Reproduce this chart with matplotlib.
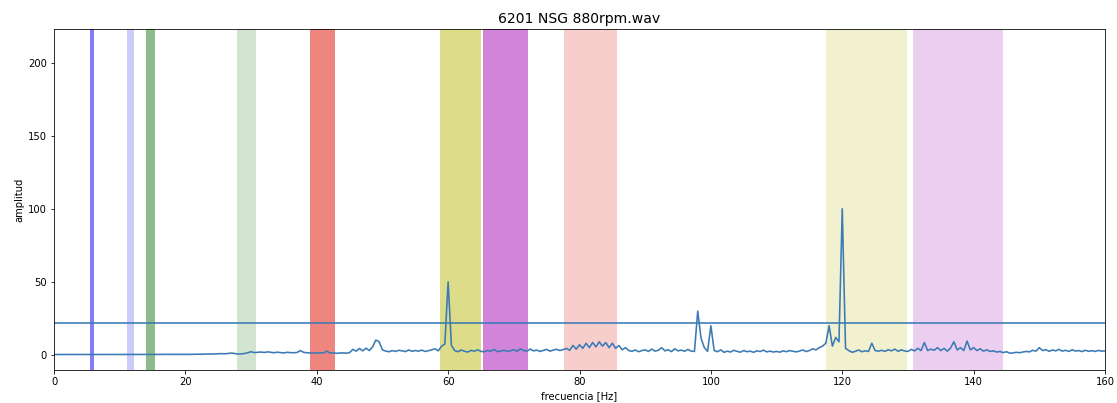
import numpy as np
import matplotlib
matplotlib.use("Agg")
import matplotlib.pyplot as plt

title = "6201 NSG 880rpm.wav"
xlabel = "frecuencia [Hz]"
ylabel = "amplitud"

freq_step = 0.5  # Hz between spectrum samples, starting at 0 Hz

amp_0_10 = [0.3, 0.3, 0.3, 0.3, 0.3, 0.3, 0.3, 0.3, 0.3, 0.3,
            0.3, 0.3, 0.3, 0.3, 0.3, 0.3, 0.3, 0.3, 0.3, 0.3]
amp_10_20 = [0.3, 0.3, 0.3, 0.3, 0.3, 0.3, 0.3, 0.35, 0.35, 0.35,
             0.35, 0.35, 0.35, 0.4, 0.4, 0.4, 0.4, 0.4, 0.4, 0.4]
amp_20_30 = [0.4, 0.4, 0.4, 0.5, 0.5, 0.5, 0.6, 0.6, 0.7, 0.7,
             0.8, 0.9, 0.8, 1.0, 1.3, 1.0, 0.6, 0.7, 1.0, 1.5]
amp_30_40 = [2.2, 1.6, 1.8, 2.0, 1.7, 2.1, 1.8, 1.5, 1.9, 1.6,
             1.4, 1.8, 1.6, 1.5, 1.7, 3.0, 1.8, 1.5, 1.3, 1.4]
amp_40_50 = [1.2, 1.5, 1.3, 2.6, 1.4, 1.4, 1.1, 1.3, 1.4, 1.2,
             1.6, 3.8, 2.6, 4.4, 2.8, 4.6, 3.0, 5.5, 10.2, 9.0]
amp_50_60 = [3.5, 2.6, 2.2, 3.0, 2.4, 3.2, 2.8, 2.3, 3.4, 2.5,
             3.0, 2.6, 3.3, 2.4, 2.9, 3.5, 4.2, 2.8, 6.0, 7.5]
amp_60_70 = [50.0, 6.5, 3.0, 2.2, 3.4, 2.5, 2.0, 3.1, 2.6, 3.5,
             2.4, 2.2, 3.0, 2.6, 3.8, 2.3, 2.7, 3.2, 2.4, 2.9]
amp_70_80 = [3.6, 2.5, 4.2, 3.0, 2.6, 4.0, 2.8, 3.3, 2.4, 3.1,
             3.8, 2.6, 3.3, 3.9, 3.0, 3.6, 4.5, 3.2, 6.5, 4.0]
amp_80_90 = [7.0, 4.5, 8.0, 5.0, 8.5, 5.5, 9.0, 6.0, 8.5, 5.0,
             8.0, 4.5, 6.5, 3.5, 5.0, 3.0, 2.5, 3.4, 2.2, 3.0]
amp_90_100 = [3.5, 2.4, 4.0, 2.6, 3.2, 5.0, 2.8, 3.6, 2.3, 4.2,
              2.8, 3.3, 2.5, 3.8, 2.6, 2.4, 30.0, 11.5, 5.0, 2.5]
amp_100_110 = [20.0, 3.0, 2.2, 3.5, 1.8, 2.6, 2.0, 3.2, 2.4, 1.9,
               3.0, 2.2, 2.6, 1.8, 2.8, 2.3, 3.3, 2.1, 2.6, 2.0]
amp_110_120 = [2.4, 1.9, 2.8, 2.2, 3.0, 2.5, 2.1, 2.7, 3.4, 2.3,
               3.0, 4.2, 3.5, 5.0, 6.0, 8.0, 20.0, 6.0, 12.0, 9.0]
amp_120_130 = [100.0, 4.5, 3.0, 1.8, 2.5, 3.4, 2.2, 2.8, 2.4, 8.0,
               3.0, 2.6, 3.2, 2.4, 3.6, 2.8, 4.0, 2.5, 3.5, 2.7]
amp_130_140 = [2.4, 3.8, 2.8, 4.5, 3.0, 8.5, 3.0, 4.0, 3.2, 5.0,
               3.0, 4.5, 2.6, 4.8, 9.0, 3.4, 5.0, 3.0, 9.5, 3.5]
amp_140_150 = [5.0, 3.0, 4.2, 2.6, 3.5, 2.4, 2.8, 2.0, 2.4, 1.6,
               2.2, 1.2, 1.4, 1.8, 1.5, 2.0, 2.4, 2.1, 3.2, 2.6]
amp_150_160 = [5.0, 3.0, 3.6, 2.5, 3.4, 2.8, 3.8, 2.6, 3.2, 2.4,
               3.5, 2.7, 3.0, 2.3, 3.2, 2.5, 2.9, 2.4, 3.1, 2.6, 2.8]

amplitude = (amp_0_10 + amp_10_20 + amp_20_30 + amp_30_40 + amp_40_50 +
             amp_50_60 + amp_60_70 + amp_70_80 + amp_80_90 + amp_90_100 +
             amp_100_110 + amp_110_120 + amp_120_130 + amp_130_140 +
             amp_140_150 + amp_150_160)

threshold = 22.0

# frequency bands (start Hz, end Hz), colour, alpha
band_starts = [5.5, 11.1, 14.0, 27.8, 38.9, 58.8, 65.3, 77.6, 117.6, 130.7]
band_ends = [6.15, 12.2, 15.4, 30.8, 42.8, 65.0, 72.1, 85.7, 129.8, 144.4]
band_colors = ['#0000f0', '#0000f0', '#1e7a16', '#1e7a16', '#e00c00',
               '#bcba14', '#a40ab4', '#e00c00', '#bcba14', '#a40ab4']
band_alphas = [0.5, 0.2, 0.5, 0.2, 0.5, 0.5, 0.5, 0.2, 0.2, 0.2]

freq = np.arange(len(amplitude)) * freq_step

fig = plt.figure(figsize=(1117 / 72, 403 / 72), dpi=72)
ax = fig.add_axes([54 / 1117, 1 - 370 / 403, (1105 - 54) / 1117, (370 - 29) / 403])

for s, e, c, a in zip(band_starts, band_ends, band_colors, band_alphas):
    ax.axvspan(s, e, color=c, alpha=a, lw=0)

ax.plot(freq, amplitude, color='#3a7ab5', lw=1.6)
ax.axhline(threshold, color='#3a7ab5', lw=1.6)

ax.set_xlim(0, 160)
ax.set_ylim(-10.3, 223)
ax.set_title(title, fontsize=14)
ax.set_xlabel(xlabel)
ax.set_ylabel(ylabel)

fig.savefig("out.png", dpi=72)
